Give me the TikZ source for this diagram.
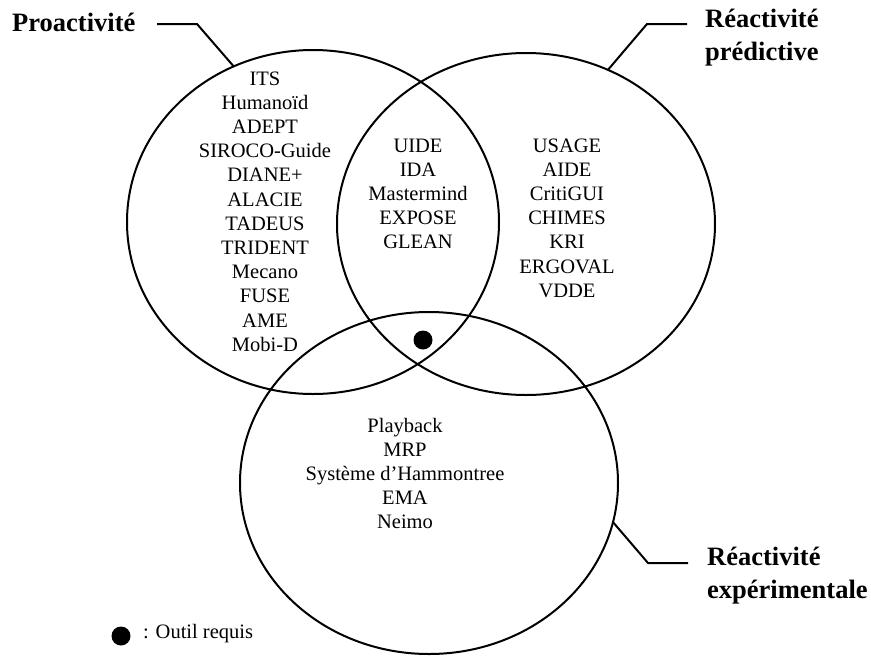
\documentclass[tikz,border=0pt]{standalone}
\usepackage{fontspec}
\setmainfont{Liberation Serif}
\usetikzlibrary{shapes.geometric}
\newcommand\itemstack[1]{\begin{tabular}[t]{@{}c@{}}#1\end{tabular}}
\newcommand\titlestack[1]{\begin{tabular}[t]{@{}l@{}}#1\end{tabular}}
\begin{document}
\begin{tikzpicture}[x=1pt,y=-1pt,
  set/.style={draw, ellipse, line width=2pt, minimum width=378pt, minimum height=342pt, inner sep=0pt, outer sep=0pt},
  items/.style={anchor=base, inner sep=0pt, font=\fontsize{20.5}{24.2}\selectfont},
  title/.style={anchor=base west, inner sep=0pt, font=\bfseries\fontsize{26.5}{33}\selectfont},
  callout/.style={line width=2pt},
  dot/.style={circle, fill=black, draw=none, inner sep=0pt, minimum size=19pt}]
\useasboundingbox (0,0) rectangle (871,657);
\node[set, minimum width=372pt, minimum height=344pt] (L) at (313,222) {};
\node[set] (R) at (526,224) {};
\node[set] (B) at (429,483) {};

\node[items] (Lt) at (265,85) {\itemstack{ITS\\Humanoïd\\ADEPT\\SIROCO-Guide\\DIANE+\\ALACIE\\TADEUS\\TRIDENT\\Mecano\\FUSE\\AME\\Mobi-D}};
\node[items] (Mt) at (418,152) {\itemstack{UIDE\\IDA\\Mastermind\\EXPOSE\\GLEAN}};
\node[items] (Rt) at (567,152) {\itemstack{USAGE\\AIDE\\CritiGUI\\CHIMES\\KRI\\ERGOVAL\\VDDE}};
\node[items] (Bt) at (405,432) {\itemstack{Playback\\MRP\\Système d’Hammontree\\EMA\\Neimo}};

\node[dot] (D) at (423,340) {};

\node[title] (P) at (12,31) {Proactivité};
\coordinate (P1) at (157,24);
\coordinate (P2) at (197,24);
\draw[callout] (P1) -- (P2) -- (L.117.5);

\node[title] (RP) at (705,27) {\titlestack{Réactivité\\prédictive}};
\coordinate (R1) at (687,24);
\coordinate (R2) at (647,24);
\draw[callout] (R1) -- (R2) -- (R.62.3);

\node[title] (RE) at (707,565) {\titlestack{Réactivité\\expérimentale}};
\coordinate (E1) at (688,563);
\coordinate (E2) at (648,563);
\draw[callout] (E1) -- (E2) -- (B.-12.6);

\node[dot] (LD) at (121,636) {};
\node[items, anchor=base west] (LT) at (143,638) {: Outil requis};
\end{tikzpicture}
\end{document}
